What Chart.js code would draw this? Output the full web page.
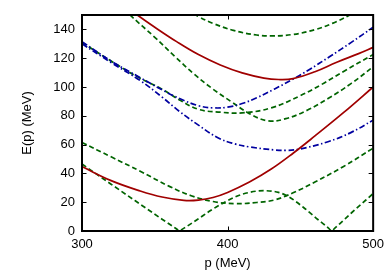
<!DOCTYPE html>
<html><head><meta charset="utf-8">
<script src="https://cdn.jsdelivr.net/npm/chart.js@4"></script>
<style>html,body{margin:0;padding:0;background:#fff}</style>
</head><body>
<canvas id="c" width="390" height="273"></canvas>
<script>
// ---- data ----
const xTicks = [300, 400, 500];
const yTicks = [0, 20, 40, 60, 80, 100, 120, 140];

// red solid curves
const redLowP  = [300, 320, 340, 355, 370, 380, 390, 400, 415, 430, 445, 460, 480, 500];
const redLowE  = [44.7, 35, 27.8, 23.6, 21.3, 21.5, 23.3, 26.8, 34, 43, 54, 66, 82.5, 100];
const redHighP = [330, 338, 350, 365, 380, 395, 410, 425, 435, 445, 460, 475, 490, 500];
const redHighE = [156, 150, 141.5, 131.5, 122.5, 115.3, 109.8, 106.2, 105.2, 105.8, 110.6, 117.2, 123.2, 127.5];

// blue dash-dot curves
const blueUpP = [300, 320, 340, 355, 367, 380, 390, 400, 410, 420, 432, 445, 456, 470, 485, 500];
const blueUpE = [131.5, 118, 106.5, 98, 92, 87, 85.5, 86, 88.5, 92.5, 98.5, 105.5, 112, 121, 131, 141.5];
const blueLoP = [300, 320, 340, 355, 367, 380, 394, 405, 415, 432, 440, 449, 469, 485, 500];
const blueLoE = [130, 117, 104.5, 93, 83, 73.5, 64.4, 60.5, 58.4, 56.3, 56, 56.8, 62, 68.5, 77];

// green dashed curves
const greenTopP = [372, 380, 390, 404, 420, 431, 445, 460, 472, 484, 490];
const greenTopE = [153.5, 148.9, 144.2, 139.3, 136.1, 135.5, 136.5, 139.8, 144.2, 150, 153.5];
const greenSteepP = [325, 333, 350, 364, 377, 390, 403, 415, 428, 440, 455, 469, 485, 500];
const greenSteepE = [158, 150, 134.5, 121, 109, 98.5, 89.5, 81.5, 76.5, 78, 84, 92, 102.5, 114];
const greenMidP = [300, 320, 340, 355, 367, 380, 395, 410, 430, 450, 465, 480, 500];
const greenMidE = [131, 118, 106, 98.5, 91, 84.5, 82.5, 82, 85.5, 94, 102, 111, 122.5];
const greenLowP = [300, 320, 340, 360, 375, 390, 405, 420, 432, 445, 460, 480, 500];
const greenLowE = [61.5, 51.5, 41.5, 31, 24.5, 20.5, 19, 19.8, 21.5, 26.5, 34, 45, 57.5];
const greenWaveP = [300, 320, 340, 355, 362, 365, 367, 369, 372, 380, 388, 398, 410, 425, 435, 442, 452, 462, 467, 469.5, 471.5, 473.5, 477, 485, 500];
const greenWaveE = [46.5, 32.5, 18.6, 8.2, 3.5, 1.4, 0, 1.3, 3.2, 8.5, 14, 20, 25.5, 28, 26.8, 23.8, 16.5, 8, 4, 1.8, 0, 1.8, 5, 12.5, 26];

// ---- styling ----
const RED = '#a00000', BLUE = '#0000a0', GREEN = '#006400';
const zip = (p, e) => p.map((v, i) => ({x: v, y: e[i]}));
function ds(p, e, color, dash, mode) {
  return {data: zip(p, e), borderColor: color, borderWidth: 1.7, borderDash: dash,
    pointRadius: 0, fill: false, tension: 0.4, cubicInterpolationMode: mode || 'default', clip: 0};
}
const solid = [], dashed = [5, 3], dashDot = [6, 2.5, 1.5, 2.5];

const frame = {
  id: 'frame',
  afterDatasetsDraw(chart) {
    const {ctx, chartArea: a, scales: {x, y}} = chart;
    ctx.save();
    ctx.strokeStyle = '#000';
    ctx.lineWidth = 1;
    const L = 4.5;
    ctx.beginPath();
    yTicks.forEach(v => {
      const py = Math.round(y.getPixelForValue(v)) + 0.5;
      ctx.moveTo(a.left, py); ctx.lineTo(a.left + L, py);
      ctx.moveTo(a.right, py); ctx.lineTo(a.right - L, py);
    });
    xTicks.forEach(v => {
      const px = Math.round(x.getPixelForValue(v)) + 0.5;
      ctx.moveTo(px, a.bottom); ctx.lineTo(px, a.bottom - L);
      ctx.moveTo(px, a.top); ctx.lineTo(px, a.top + L);
    });
    ctx.stroke();
    ctx.lineWidth = 2;
    ctx.strokeRect(a.left, a.top, a.right - a.left, a.bottom - a.top);
    ctx.restore();
  }
};

const font = {family: '"Liberation Sans", Arial, sans-serif', size: 13};
new Chart(document.getElementById('c'), {
  type: 'line',
  data: {datasets: [
    ds(redLowP, redLowE, RED, solid),
    ds(redHighP, redHighE, RED, solid),
    ds(blueUpP, blueUpE, BLUE, dashDot),
    ds(blueLoP, blueLoE, BLUE, dashDot),
    ds(greenTopP, greenTopE, GREEN, dashed),
    ds(greenSteepP, greenSteepE, GREEN, dashed),
    ds(greenMidP, greenMidE, GREEN, dashed),
    ds(greenLowP, greenLowE, GREEN, dashed),
    ds(greenWaveP, greenWaveE, GREEN, dashed, 'monotone')
  ]},
  options: {
    responsive: false, animation: false, devicePixelRatio: 1,
    layout: {padding: {left: 0, top: 15, right: 15, bottom: 0}},
    plugins: {legend: {display: false}, tooltip: {enabled: false}},
    scales: {
      x: {type: 'linear', min: 300, max: 500,
        afterBuildTicks: s => { s.ticks = xTicks.map(v => ({value: v})); },
        afterFit: s => { s.height = 42; },
        grid: {display: false, drawTicks: false}, border: {display: false},
        ticks: {color: '#000', font, padding: 6},
        title: {display: true, text: 'p (MeV)', color: '#000', font, padding: {top: 0, bottom: 2}}
      },
      y: {type: 'linear', min: 0, max: 150,
        afterBuildTicks: s => { s.ticks = yTicks.map(v => ({value: v})); },
        afterFit: s => { s.width = 82; },
        grid: {display: false, drawTicks: false}, border: {display: false},
        ticks: {color: '#000', font, padding: 7},
        title: {display: true, text: 'E(p) (MeV)', color: '#000', font, padding: {top: 20, bottom: 0}}
      }
    }
  },
  plugins: [frame]
});
</script>
</body></html>
